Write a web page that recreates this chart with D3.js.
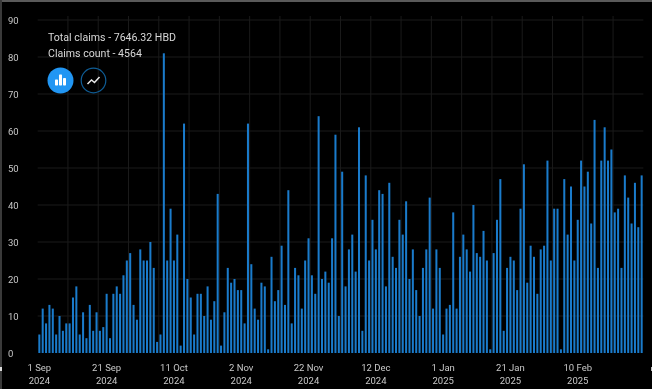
<!DOCTYPE html>
<html>
<head>
<meta charset="utf-8">
<script src="https://cdnjs.cloudflare.com/ajax/libs/d3/7.8.5/d3.min.js"></script>
<style>
    html, body { margin: 0; padding: 0; background: #000; }
    #chart { width: 652px; height: 389px; overflow: hidden; }
    svg { display: block; filter: blur(0.35px); font-family: Roboto, sans-serif; }
</style>
</head>
<body>
<div id="chart"></div>
<script>
// two days are missing from the source between 11 Oct and 2 Nov
const categories = [
    "1 Sep 2024", "2 Sep 2024", "3 Sep 2024", "4 Sep 2024", "5 Sep 2024", "6 Sep 2024", "7 Sep 2024", "8 Sep 2024", "9 Sep 2024", "10 Sep 2024",
    "11 Sep 2024", "12 Sep 2024", "13 Sep 2024", "14 Sep 2024", "15 Sep 2024", "16 Sep 2024", "17 Sep 2024", "18 Sep 2024", "19 Sep 2024", "20 Sep 2024",
    "21 Sep 2024", "22 Sep 2024", "23 Sep 2024", "24 Sep 2024", "25 Sep 2024", "26 Sep 2024", "27 Sep 2024", "28 Sep 2024", "29 Sep 2024", "30 Sep 2024",
    "1 Oct 2024", "2 Oct 2024", "3 Oct 2024", "4 Oct 2024", "5 Oct 2024", "6 Oct 2024", "7 Oct 2024", "8 Oct 2024", "9 Oct 2024", "10 Oct 2024",
    "11 Oct 2024", "12 Oct 2024", "13 Oct 2024", "14 Oct 2024", "15 Oct 2024", "16 Oct 2024", "17 Oct 2024", "18 Oct 2024", "19 Oct 2024", "20 Oct 2024",
    "21 Oct 2024", "22 Oct 2024", "23 Oct 2024", "24 Oct 2024", "25 Oct 2024", "26 Oct 2024", "27 Oct 2024", "28 Oct 2024", "29 Oct 2024", "30 Oct 2024",
    "2 Nov 2024", "3 Nov 2024", "4 Nov 2024", "5 Nov 2024", "6 Nov 2024", "7 Nov 2024", "8 Nov 2024", "9 Nov 2024", "10 Nov 2024", "11 Nov 2024",
    "12 Nov 2024", "13 Nov 2024", "14 Nov 2024", "15 Nov 2024", "16 Nov 2024", "17 Nov 2024", "18 Nov 2024", "19 Nov 2024", "20 Nov 2024", "21 Nov 2024",
    "22 Nov 2024", "23 Nov 2024", "24 Nov 2024", "25 Nov 2024", "26 Nov 2024", "27 Nov 2024", "28 Nov 2024", "29 Nov 2024", "30 Nov 2024", "1 Dec 2024",
    "2 Dec 2024", "3 Dec 2024", "4 Dec 2024", "5 Dec 2024", "6 Dec 2024", "7 Dec 2024", "8 Dec 2024", "9 Dec 2024", "10 Dec 2024", "11 Dec 2024",
    "12 Dec 2024", "13 Dec 2024", "14 Dec 2024", "15 Dec 2024", "16 Dec 2024", "17 Dec 2024", "18 Dec 2024", "19 Dec 2024", "20 Dec 2024", "21 Dec 2024",
    "22 Dec 2024", "23 Dec 2024", "24 Dec 2024", "25 Dec 2024", "26 Dec 2024", "27 Dec 2024", "28 Dec 2024", "29 Dec 2024", "30 Dec 2024", "31 Dec 2024",
    "1 Jan 2025", "2 Jan 2025", "3 Jan 2025", "4 Jan 2025", "5 Jan 2025", "6 Jan 2025", "7 Jan 2025", "8 Jan 2025", "9 Jan 2025", "10 Jan 2025",
    "11 Jan 2025", "12 Jan 2025", "13 Jan 2025", "14 Jan 2025", "15 Jan 2025", "16 Jan 2025", "17 Jan 2025", "18 Jan 2025", "19 Jan 2025", "20 Jan 2025",
    "21 Jan 2025", "22 Jan 2025", "23 Jan 2025", "24 Jan 2025", "25 Jan 2025", "26 Jan 2025", "27 Jan 2025", "28 Jan 2025", "29 Jan 2025", "30 Jan 2025",
    "31 Jan 2025", "1 Feb 2025", "2 Feb 2025", "3 Feb 2025", "4 Feb 2025", "5 Feb 2025", "6 Feb 2025", "7 Feb 2025", "8 Feb 2025", "9 Feb 2025",
    "10 Feb 2025", "11 Feb 2025", "12 Feb 2025", "13 Feb 2025", "14 Feb 2025", "15 Feb 2025", "16 Feb 2025", "17 Feb 2025", "18 Feb 2025", "19 Feb 2025",
    "20 Feb 2025", "21 Feb 2025", "22 Feb 2025", "23 Feb 2025", "24 Feb 2025", "25 Feb 2025", "26 Feb 2025", "27 Feb 2025", "28 Feb 2025", "1 Mar 2025"
];
const claims = [
    5, 12, 8, 13, 12, 5, 10, 6, 8, 8,
    15, 18, 5, 11, 4, 13, 6, 11, 6, 7,
    16, 4, 16, 18, 16, 21, 25, 27, 13, 9,
    28, 25, 25, 30, 23, 3, 5, 81, 25, 39,
    25, 32, 2, 62, 20, 15, 5, 16, 16, 10,
    18, 9, 14, 43, 2, 11, 23, 19, 20, 17,
    17, 8, 62, 24, 12, 9, 19, 18, 1, 26,
    14, 17, 29, 13, 44, 8, 23, 21, 12, 25,
    31, 21, 16, 64, 20, 22, 19, 31, 59, 10,
    49, 18, 28, 32, 22, 61, 6, 48, 25, 36,
    28, 44, 43, 18, 46, 26, 23, 36, 32, 41,
    20, 28, 17, 10, 23, 28, 42, 12, 28, 23,
    5, 12, 13, 38, 12, 26, 32, 28, 22, 40,
    27, 26, 33, 25, 1, 27, 36, 47, 6, 23,
    26, 25, 17, 39, 51, 19, 29, 26, 16, 28,
    29, 52, 25, 39, 39, 1, 47, 32, 45, 25,
    36, 52, 45, 49, 35, 63, 23, 52, 61, 52,
    55, 38, 39, 23, 48, 42, 35, 46, 34, 48
];
const yTicks = [0, 10, 20, 30, 40, 50, 60, 70, 80, 90];
const xTickLabels = ["1 Sep 2024", "21 Sep 2024", "11 Oct 2024", "2 Nov 2024", "22 Nov 2024", "12 Dec 2024", "1 Jan 2025", "21 Jan 2025", "10 Feb 2025"];
const summary = ["Total claims - 7646.32 HBD", "Claims count - 4564"];

const width = 652;
const height = 389;
const margin = { top: 20, right: 8.65, bottom: 36, left: 37.65 };
const innerRight = width - margin.right;
const innerBottom = height - margin.bottom;

const svg = d3.select('#chart')
    .append('svg')
    .attr('width', width)
    .attr('height', height);

const xScale = d3.scaleBand()
    .domain(categories)
    .range([margin.left, innerRight])
    .paddingInner(0.4)
    .paddingOuter(0.2);
const yScale = d3.scaleLinear()
    .domain([0, 90])
    .range([innerBottom, margin.top]);

// screenshot frame
svg.append('rect').attr('width', width).attr('height', 2).attr('fill', '#5a5a5a');
svg.append('rect').attr('width', 2).attr('height', height).attr('fill', '#3a3a3a');
svg.append('rect').attr('x', 0).attr('y', 367).attr('width', 2).attr('height', 4).attr('fill', '#ddd');
svg.append('rect').attr('x', 651).attr('y', 367).attr('width', 1).attr('height', 4).attr('fill', '#bbb');

// grid, vertical lines sit on every 9th band edge
const edgeOffset = xScale.step() * 0.2;
svg.append('g')
    .selectAll('line')
    .data(categories.filter((d, i) => i > 0 && i % 9 === 0))
    .join('line')
    .attr('x1', d => xScale(d) - edgeOffset)
    .attr('x2', d => xScale(d) - edgeOffset)
    .attr('y1', 16)
    .attr('y2', innerBottom)
    .attr('stroke', '#1a1a1a');
svg.append('g')
    .selectAll('line')
    .data(yTicks.slice(1))
    .join('line')
    .attr('x1', margin.left)
    .attr('x2', innerRight)
    .attr('y1', d => yScale(d))
    .attr('y2', d => yScale(d))
    .attr('stroke', '#1a1a1a');

// bars
svg.append('g')
    .selectAll('rect')
    .data(categories)
    .join('rect')
    .attr('x', d => xScale(d))
    .attr('width', xScale.bandwidth())
    .attr('y', (d, i) => yScale(claims[i]))
    .attr('height', (d, i) => innerBottom - yScale(claims[i]))
    .attr('fill', '#1a7bcb');

// y axis, labels are left aligned
const yAxis = svg.append('g')
    .attr('transform', `translate(${margin.left}, 0)`)
    .call(d3.axisLeft(yScale).tickValues(yTicks).tickSize(0));
yAxis.select('.domain').remove();
yAxis.selectAll('text')
    .attr('x', 8 - margin.left)
    .attr('text-anchor', 'start')
    .attr('fill', '#c8c8c8')
    .style('font-family', 'Roboto, sans-serif')
    .style('font-size', '9.5px');

// x axis with day and year on two lines
const xAxis = svg.append('g')
    .attr('transform', `translate(0, ${innerBottom})`)
    .call(d3.axisBottom(xScale).tickValues(xTickLabels).tickSize(0));
xAxis.select('.domain').remove();
xAxis.selectAll('text')
    .text(null)
    .attr('y', 0)
    .attr('dy', null)
    .attr('fill', '#c8c8c8')
    .style('font-family', 'Roboto, sans-serif')
    .style('font-size', '9.5px')
    .each(function (d) {
        const parts = d.split(' ');
        d3.select(this).append('tspan').attr('x', 0).attr('y', 17.5).text(parts[0] + ' ' + parts[1]);
        d3.select(this).append('tspan').attr('x', 0).attr('y', 31).text(parts[2]);
    });

// summary text
svg.append('g')
    .selectAll('text')
    .data(summary)
    .join('text')
    .attr('x', 48)
    .attr('y', (d, i) => 41 + i * 15.5)
    .attr('fill', '#d8d8d8')
    .style('font-size', '10.6px')
    .text(d => d);

// chart type buttons
const barButton = svg.append('g').attr('transform', 'translate(60.5, 80.5)');
barButton.append('circle').attr('r', 13).attr('fill', '#2196f3');
[[-5.5, -1, 3, 6], [-1.5, -6, 3, 11], [2.5, -2.5, 3, 7.5]].forEach(b => {
    barButton.append('rect')
        .attr('x', b[0]).attr('y', b[1]).attr('width', b[2]).attr('height', b[3])
        .attr('rx', 0.7).attr('fill', '#fff');
});
const lineButton = svg.append('g').attr('transform', 'translate(93.5, 80.5)');
lineButton.append('circle').attr('r', 12.3).attr('fill', 'none').attr('stroke', '#0f5d96').attr('stroke-width', 1.2);
lineButton.append('path')
    .attr('d', 'M-6,3.5 L-2,-0.5 L1,2 L6,-3.5')
    .attr('fill', 'none')
    .attr('stroke', '#e8e8e8')
    .attr('stroke-width', 1.5);
</script>
</body>
</html>
